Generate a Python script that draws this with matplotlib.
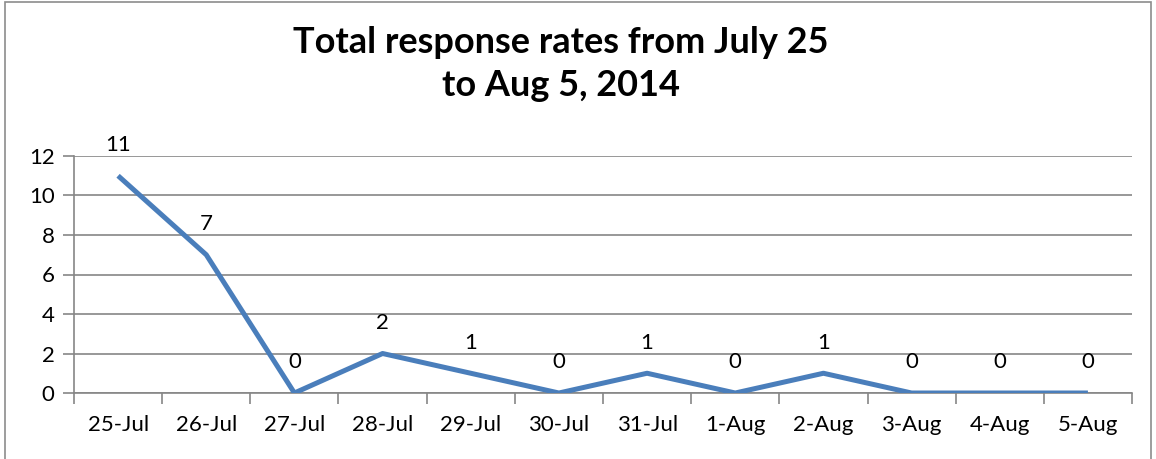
import matplotlib.pyplot as plt
from matplotlib.patches import Rectangle

# Дані графіка
dates = ['25-Jul', '26-Jul', '27-Jul', '28-Jul', '29-Jul', '30-Jul',
         '31-Jul', '1-Aug', '2-Aug', '3-Aug', '4-Aug', '5-Aug']
responses = [11, 7, 0, 2, 1, 0, 1, 0, 1, 0, 0, 0]
y_ticks = [0, 2, 4, 6, 8, 10, 12]
title = 'Total response rates from July 25\nto Aug 5, 2014'

plt.rcParams['font.family'] = ['Lato', 'DejaVu Sans']

line_color = '#4A7EBB'
grid_color = '#868686'

fig = plt.figure(figsize=(11.56, 4.59), dpi=100)
ax = fig.add_axes([74 / 1156, 1 - 393 / 459, (1132 - 74) / 1156, (393 - 156) / 459])

# Рамка навколо всього графіка
fig.patches.append(Rectangle((5 / 1156, -0.01), (1151 - 5) / 1156, 1 - 2 / 459 + 0.01,
                             transform=fig.transFigure, fill=False,
                             edgecolor='#8c8c8c', linewidth=1.2))

x = range(len(dates))
ax.plot(x, responses, color=line_color, linewidth=3.6, solid_joinstyle='round',
        solid_capstyle='butt', zorder=3)

for xi, v in zip(x, responses):
    ax.annotate(str(v), (xi, v), xytext=(0, 22), textcoords='offset points',
                ha='center', va='center', fontsize=16, color='black')

ax.set_xlim(-0.5, len(dates) - 0.5)
ax.set_ylim(0, 12)
ax.set_yticks(y_ticks)
ax.set_yticklabels([str(t) for t in y_ticks], fontsize=16)

ax.set_xticks([i for i in x])
ax.set_xticklabels(dates, fontsize=16)
ax.set_xticks([i - 0.5 for i in range(len(dates) + 1)], minor=True)
ax.tick_params(axis='x', which='major', length=0, pad=16)
ax.tick_params(axis='x', which='minor', length=8, width=1.2, color=grid_color, direction='out')
ax.tick_params(axis='y', length=8, width=1.2, color=grid_color, pad=6)

ax.yaxis.grid(True, color=grid_color, linewidth=1.2)
ax.set_axisbelow(True)
for side in ['top', 'right']:
    ax.spines[side].set_visible(False)
for side in ['left', 'bottom']:
    ax.spines[side].set_color(grid_color)
    ax.spines[side].set_linewidth(1.2)

fig.text(0.485, 1 - 64 / 459, title, ha='center', va='center', fontsize=26,
         fontweight='bold', linespacing=1.4)

fig.savefig('out.png', dpi=100)
